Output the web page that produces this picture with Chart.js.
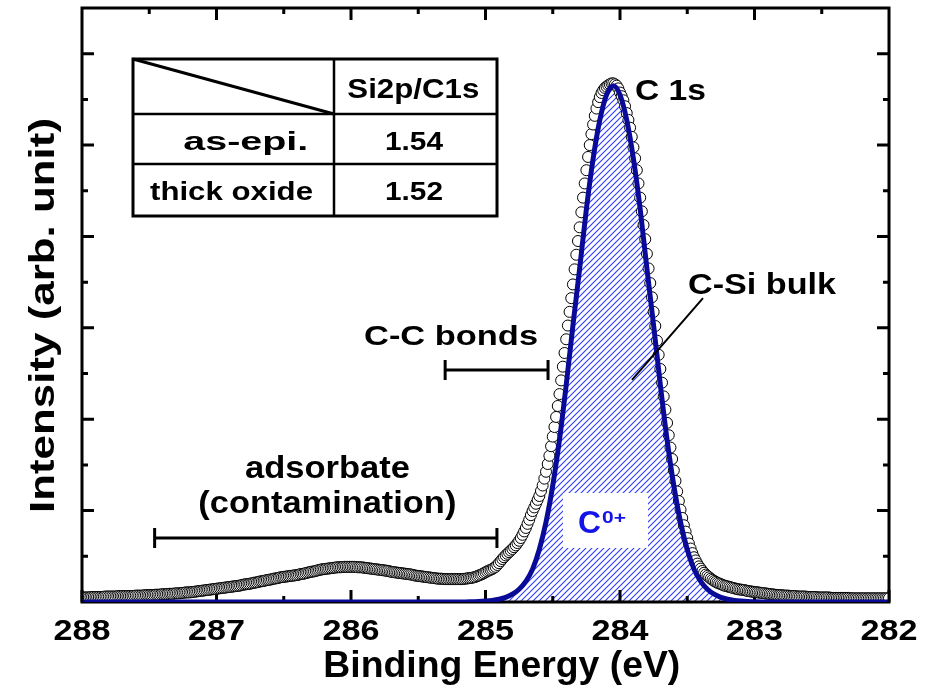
<!DOCTYPE html>
<html>
<head>
<meta charset="utf-8">
<title>C 1s XPS spectrum</title>
<script src="https://cdn.jsdelivr.net/npm/chart.js@4.4.1/dist/chart.umd.min.js"></script>
<style>
  html, body { margin: 0; padding: 0; background: #ffffff; }
  canvas { display: block; }
</style>
</head>
<body>
<canvas id="xps" width="932" height="697"></canvas>
<script>
// ---- Measured C 1s spectrum: sampled from 288.0000 eV down to 282.0000 eV in 0.0125 eV steps ----
const E_START = 288.0;
const E_STEP = 0.0125;
const intensity = [
  // 288.0000 - 286.9000
  0.100,0.100,0.100,0.100,0.100,0.105,0.110,0.110,0.110,0.110,
  0.110,0.110,0.110,0.115,0.120,0.120,0.120,0.120,0.120,0.120,
  0.120,0.125,0.130,0.130,0.130,0.130,0.130,0.130,0.130,0.130,
  0.130,0.135,0.140,0.140,0.140,0.140,0.140,0.145,0.150,0.150,
  0.150,0.150,0.150,0.155,0.160,0.160,0.160,0.165,0.170,0.170,
  0.170,0.175,0.180,0.180,0.180,0.185,0.190,0.190,0.190,0.195,
  0.200,0.205,0.210,0.210,0.210,0.215,0.220,0.225,0.230,0.235,
  0.240,0.245,0.250,0.255,0.260,0.265,0.270,0.275,0.280,0.285,
  0.290,0.295,0.300,0.305,0.310,0.315,0.320,0.325,0.330,
  // 286.8875 - 285.0000 (adsorbate band)
  0.335,0.34, 0.345,0.35, 0.355,0.36, 0.370,0.38, 0.385,0.39,
  0.395,0.40, 0.410,0.42, 0.425,0.43, 0.440,0.45, 0.455,0.46,
  0.470,0.48, 0.485,0.49, 0.500,0.51, 0.515,0.52, 0.530,0.54,
  0.545,0.55, 0.555,0.56, 0.565,0.57, 0.575,0.58, 0.585,0.59,
  0.600,0.61, 0.615,0.62, 0.630,0.64, 0.650,0.66, 0.665,0.67,
  0.680,0.69, 0.700,0.71, 0.715,0.72, 0.725,0.73, 0.735,0.74,
  0.745,0.75, 0.755,0.76, 0.760,0.76, 0.765,0.77, 0.770,0.77,
  0.770,0.77,
  0.770,0.77, 0.765,0.76, 0.760,0.76, 0.755,0.75, 0.745,0.74,
  0.735,0.73, 0.725,0.72, 0.715,0.71, 0.705,0.70, 0.695,0.69,
  0.685,0.68, 0.670,0.66, 0.655,0.65, 0.645,0.64, 0.635,0.63,
  0.625,0.62, 0.615,0.61, 0.605,0.60, 0.590,0.58, 0.575,0.57,
  0.565,0.56, 0.555,0.55, 0.545,0.54, 0.535,0.53, 0.525,0.52,
  0.515,0.51, 0.510,0.51, 0.505,0.50, 0.500,0.50, 0.500,0.50,
  0.500,0.50, 0.500,0.50, 0.500,0.50, 0.505,0.51, 0.515,0.52,
  0.525,0.53, 0.540,0.55, 0.565,0.58, 0.595,0.61, 0.630,0.65,
  // 284.9875 - 284.0125 (rising edge)
  0.67,0.69, 0.705,0.72, 0.745,0.77, 0.81,0.85, 0.895,0.94,
  0.98,1.02, 1.055,1.09, 1.125,1.16, 1.20,1.24, 1.29,1.34,
  1.40,1.47, 1.545,1.62, 1.71,1.80, 1.90,1.99, 2.07,2.15,
  2.235,2.32, 2.43,2.55, 2.70,2.85, 3.02,3.20, 3.41,3.62,
  3.83,4.05, 4.29,4.55, 4.85,5.15, 5.45,5.75, 6.05,6.35,
  6.65,6.95, 7.28,7.60, 7.90,8.20, 8.53,8.85, 9.16,9.45,
  9.74,10.00, 10.24,10.45, 10.64,10.80, 10.94,11.05, 11.14,11.20,
  11.25,11.28, 11.31,11.33, 11.35,11.35, 11.33,11.30,
  // 284.0000 - 283.0000 (falling edge)
  11.24,11.15, 11.07,10.98, 10.85,10.70, 10.55,10.38, 10.18,9.95,
  9.71,9.45, 9.16,8.85, 8.55,8.25, 7.94,7.62, 7.30,6.98,
  6.67,6.35, 6.04,5.72, 5.41,5.10, 4.80,4.50, 4.21,3.92,
  3.65,3.38, 3.13,2.88, 2.65,2.42, 2.21,2.02, 1.84,1.68,
  1.54,1.40, 1.28,1.17, 1.07,0.98, 0.91,0.84, 0.78,0.73,
  0.68,0.64, 0.60,0.57, 0.54,0.51, 0.485,0.46, 0.44,0.42,
  0.405,0.39, 0.375,0.36, 0.35,0.34, 0.33,0.32, 0.31,0.30,
  0.29,0.28, 0.275,0.27, 0.265,0.26, 0.25,0.24, 0.235,0.23,
  0.225,0.22,
  // 282.9875 - 282.0000
  0.215,0.21, 0.205,0.20, 0.195,0.19, 0.185,0.18, 0.175,0.17,
  0.165,0.16, 0.155,0.15, 0.150,0.15, 0.145,0.14, 0.140,0.14,
  0.135,0.13, 0.130,0.13, 0.125,0.12, 0.120,0.12, 0.120,0.12,
  0.115,0.11, 0.110,0.11, 0.110,0.11, 0.105,0.10, 0.100,0.10,
  0.100,0.10, 0.100,0.10, 0.095,0.09, 0.090,0.09, 0.090,0.09,
  0.090,0.09, 0.090,0.09, 0.090,0.09, 0.085,0.08, 0.080,0.08,
  0.080,0.08, 0.080,0.08, 0.080,0.08, 0.080,0.08, 0.080,0.08,
  0.080,0.08, 0.080,0.08, 0.080,0.08, 0.080,0.08, 0.080,0.08
];
const energy = intensity.map((_, i) => +(E_START - i * E_STEP).toFixed(4));

// ---- C-Si bulk (C0+) component fit ----
const fitEnergy = [
  288.00, 285.15, 285.10, 285.05, 285.00, 284.95, 284.90, 284.85, 284.80, 284.75,
  284.70, 284.65, 284.60, 284.55, 284.50, 284.45, 284.40, 284.35, 284.30, 284.25,
  284.20, 284.15, 284.10, 284.05, 284.00, 283.95, 283.90, 283.85, 283.80, 283.75,
  283.70, 283.65, 283.60, 283.55, 283.50, 283.45, 283.40, 283.35, 283.30, 283.25,
  283.20, 283.15, 283.10, 283.05, 283.00, 282.95, 282.00
];
const fitValue = [
  0, 0, 0.005, 0.01, 0.02, 0.035, 0.06, 0.10, 0.17, 0.28,
  0.45, 0.72, 1.15, 1.75, 2.55, 3.55, 4.75, 6.05, 7.30, 8.60,
  9.70, 10.55, 11.10, 11.30, 11.10, 10.55, 9.70, 8.60, 7.30, 6.05,
  4.75, 3.55, 2.55, 1.75, 1.15, 0.72, 0.45, 0.28, 0.17, 0.10,
  0.06, 0.035, 0.02, 0.01, 0.005, 0, 0
];

// ---- Axis ----
const xTickValues = [288, 287, 286, 285, 284, 283, 282];

// ---- Energy ranges marked on the spectrum ----
const adsorbateRange = [287.46, 284.915];
const ccBondRange = [285.30, 284.535];

// ---- Inset table ----
const tableHeader = 'Si2p/C1s';
const tableSamples = ['as-epi.', 'thick oxide'];
const tableRatios = ['1.54', '1.52'];

const FONT = "'Liberation Sans', Arial, Helvetica, sans-serif";
const NAVY = '#0a0a98';
const HATCH_BLUE = '#2f3cff';
const LABEL_BLUE = '#1414e6';

function makeHatch(ctx) {
  const s = 6;
  const pc = document.createElement('canvas');
  pc.width = s; pc.height = s;
  const g = pc.getContext('2d');
  g.strokeStyle = HATCH_BLUE;
  g.lineWidth = 1.1;
  g.beginPath();
  g.moveTo(0, s); g.lineTo(s, 0);
  g.moveTo(-s / 2, s / 2); g.lineTo(s / 2, -s / 2);
  g.moveTo(s / 2, s * 1.5); g.lineTo(s * 1.5, s / 2);
  g.stroke();
  return ctx.createPattern(pc, 'repeat');
}

// bold text, widened horizontally so that it spans the given width
function fitText(ctx, s, x, y, size, width, opt = {}) {
  ctx.save();
  ctx.font = `bold ${size}px ${FONT}`;
  ctx.letterSpacing = '0px';
  ctx.fillStyle = opt.color || '#000';
  ctx.textBaseline = 'alphabetic';
  ctx.textAlign = 'left';
  const natural = ctx.measureText(s).width;
  ctx.translate(x, y);
  if (opt.rotate) ctx.rotate(opt.rotate);
  if (opt.rotate || opt.align === 'center') ctx.translate(-width / 2, 0);
  ctx.scale(width / natural, 1);
  ctx.fillText(s, 0, 0);
  ctx.restore();
}

function errorBar(ctx, x1, x2, y, cap) {
  ctx.beginPath();
  ctx.moveTo(x1, y); ctx.lineTo(x2, y);
  ctx.moveTo(x1, y - cap); ctx.lineTo(x1, y + cap);
  ctx.moveTo(x2, y - cap); ctx.lineTo(x2, y + cap);
  ctx.stroke();
}

const frameAndLabels = {
  id: 'frameAndLabels',
  beforeDatasetsDraw(chart) {
    const { ctx, chartArea: a, scales: { x } } = chart;
    ctx.save();
    ctx.strokeStyle = '#000';
    ctx.lineWidth = 3;
    // bottom axis with inward ticks
    ctx.beginPath();
    ctx.moveTo(a.left - 1.5, a.bottom); ctx.lineTo(a.right + 1.5, a.bottom);
    x.ticks.forEach(t => {
      const p = x.getPixelForValue(t.value);
      ctx.moveTo(p, a.bottom); ctx.lineTo(p, a.bottom - 12);
      const half = t.value - 0.5;
      if (half > x.min) {
        const ph = x.getPixelForValue(half);
        ctx.moveTo(ph, a.bottom); ctx.lineTo(ph, a.bottom - 6);
      }
    });
    ctx.stroke();
    // tick labels
    x.ticks.forEach(t => {
      fitText(ctx, String(t.value), x.getPixelForValue(t.value), a.bottom + 38, 29, 57, { align: 'center' });
    });
    ctx.restore();
  },
  afterDatasetsDraw(chart) {
    const { ctx, chartArea: a, scales: { x, y } } = chart;
    const px = v => x.getPixelForValue(v);
    const py = v => y.getPixelForValue(v);
    ctx.save();
    ctx.strokeStyle = '#000';
    ctx.lineWidth = 3;

    // left, top and right frame with inward ticks
    ctx.beginPath();
    ctx.moveTo(a.left, a.bottom); ctx.lineTo(a.left, a.top); ctx.lineTo(a.right, a.top); ctx.lineTo(a.right, a.bottom);
    x.ticks.forEach(t => {
      const p = px(t.value);
      ctx.moveTo(p, a.top); ctx.lineTo(p, a.top + 12);
      const half = t.value - 0.5;
      if (half > x.min) { const ph = px(half); ctx.moveTo(ph, a.top); ctx.lineTo(ph, a.top + 6); }
    });
    y.ticks.forEach(t => {
      if (t.value <= y.min || t.value >= y.max) return;
      const p = py(t.value);
      const len = t.value % 2 === 0 ? 12 : 6;
      ctx.moveTo(a.left, p); ctx.lineTo(a.left + len, p);
      ctx.moveTo(a.right, p); ctx.lineTo(a.right - len, p);
    });
    ctx.stroke();

    // C0+ component label on a white patch
    const bx1 = px(284.424), bx2 = px(283.792), by1 = py(2.386), by2 = py(1.182);
    ctx.fillStyle = '#fff';
    ctx.fillRect(bx1, by1, bx2 - bx1, by2 - by1);
    fitText(ctx, 'C', px(284.312), py(1.51), 32, 23, { color: LABEL_BLUE });
    fitText(ctx, '0+', px(284.134), py(1.73), 17, 24, { color: LABEL_BLUE });

    // marked energy ranges
    ctx.strokeStyle = '#000';
    ctx.lineWidth = 3;
    errorBar(ctx, px(adsorbateRange[0]), px(adsorbateRange[1]), py(1.40), 10);
    errorBar(ctx, px(ccBondRange[0]), px(ccBondRange[1]), py(5.08), 10);

    // leader from "C-Si bulk" into the fitted component
    ctx.lineWidth = 2;
    ctx.beginPath();
    ctx.moveTo(px(283.383), py(6.65));
    ctx.lineTo(px(283.911), py(4.86));
    ctx.stroke();

    // annotations
    fitText(ctx, 'C 1s', px(283.889), py(10.99), 30, 71);
    fitText(ctx, 'C-Si bulk', px(283.494), py(6.74), 29, 148);
    fitText(ctx, 'C-C bonds', px(285.903), py(5.625), 28, 174);
    fitText(ctx, 'adsorbate', px(286.788), py(2.714), 31, 165);
    fitText(ctx, '(contamination)', px(287.135), py(1.95), 31, 258);

    // inset table
    const T = { left: 133, top: 59, right: 497, bottom: 216, col: 334, r1: 114, r2: 164 };
    ctx.lineWidth = 3;
    ctx.strokeRect(T.left, T.top, T.right - T.left, T.bottom - T.top);
    ctx.beginPath();
    ctx.moveTo(T.left, T.top); ctx.lineTo(T.col, T.r1);
    ctx.stroke();
    ctx.lineWidth = 2.5;
    ctx.beginPath();
    ctx.moveTo(T.col, T.top); ctx.lineTo(T.col, T.bottom);
    ctx.moveTo(T.left, T.r1); ctx.lineTo(T.right, T.r1);
    ctx.moveTo(T.left, T.r2); ctx.lineTo(T.right, T.r2);
    ctx.stroke();
    fitText(ctx, tableHeader, 347.3, 97.5, 27, 132);
    fitText(ctx, tableSamples[0], 183.3, 150, 26, 125);
    fitText(ctx, tableSamples[1], 150, 200, 26, 163);
    fitText(ctx, tableRatios[0], 385, 150, 26, 58);
    fitText(ctx, tableRatios[1], 385, 200, 26, 58);

    // axis titles
    fitText(ctx, 'Binding Energy (eV)', 323.3, 677, 36, 357);
    fitText(ctx, 'Intensity (arb. unit)', 53.5, 315.5, 35, 395, { rotate: -Math.PI / 2 });

    ctx.restore();
  }
};

const canvas = document.getElementById('xps');
const ctx = canvas.getContext('2d');
const hatch = makeHatch(ctx);

new Chart(ctx, {
  type: 'line',
  data: {
    datasets: [
      {
        label: 'C0+ fit',
        data: fitEnergy.map((e, i) => ({ x: e, y: fitValue[i] })),
        borderColor: NAVY,
        borderWidth: 5,
        backgroundColor: hatch,
        fill: 'origin',
        pointRadius: 0,
        cubicInterpolationMode: 'monotone',
        order: 1
      },
      {
        label: 'C 1s',
        data: energy.map((e, i) => ({ x: e, y: intensity[i] })),
        showLine: false,
        pointStyle: 'circle',
        pointRadius: 5.5,
        pointBorderWidth: 1,
        pointBorderColor: '#000',
        pointBackgroundColor: '#fff',
        fill: false,
        order: 2
      }
    ]
  },
  options: {
    responsive: false,
    animation: false,
    devicePixelRatio: 1,
    layout: { padding: { top: 8, right: 43, left: 0, bottom: 0 } },
    scales: {
      x: {
        type: 'linear',
        reverse: true,
        min: 282,
        max: 288,
        afterFit: s => { s.height = 95; },
        afterBuildTicks: s => { s.ticks = xTickValues.map(v => ({ value: v })); },
        grid: { display: false, drawTicks: false },
        border: { display: false },
        ticks: { display: false, stepSize: 1 }
      },
      y: {
        min: 0,
        max: 13,
        afterFit: s => { s.width = 82; },
        grid: { display: false, drawTicks: false },
        border: { display: false },
        ticks: { display: false, stepSize: 1 }
      }
    },
    plugins: {
      legend: { display: false },
      tooltip: { enabled: false },
      filler: { drawTime: 'beforeDatasetsDraw' }
    }
  },
  plugins: [frameAndLabels]
});
</script>
</body>
</html>
